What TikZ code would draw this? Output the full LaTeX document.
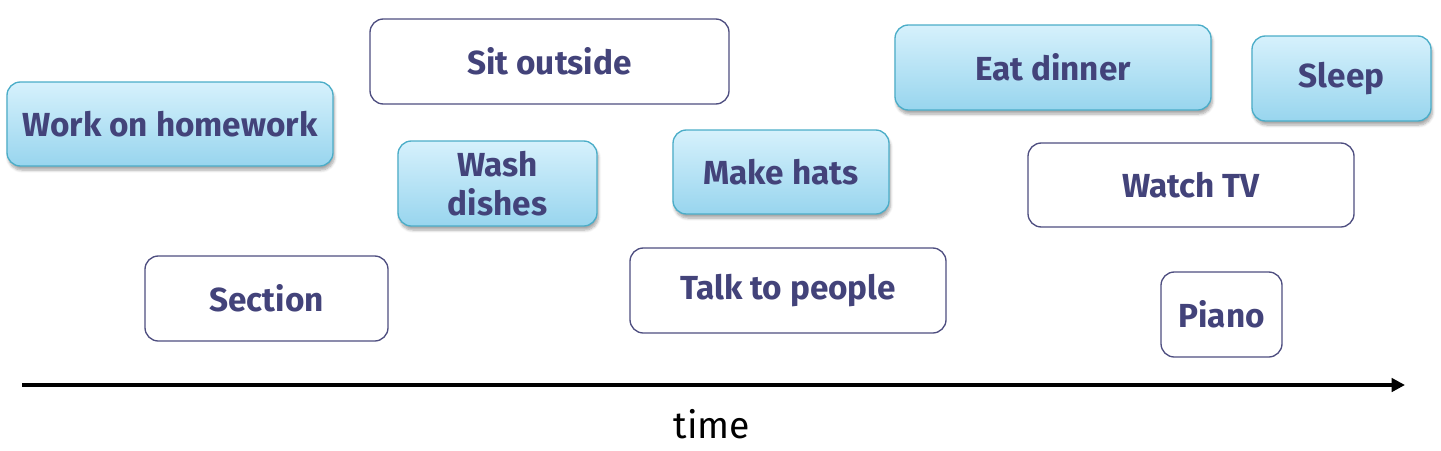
\documentclass[tikz,border=0pt]{standalone}
\usepackage{fontspec}
\setmainfont{Fira Sans}
\usetikzlibrary{shadows.blur,arrows.meta}
\definecolor{txt}{HTML}{43437A}
\definecolor{edgeW}{HTML}{4E4E80}
\definecolor{edgeB}{HTML}{4BADC8}
\definecolor{topB}{HTML}{D6F1FC}
\definecolor{botB}{HTML}{98D5EE}
\tikzset{
  x=0.75pt, y=-0.75pt,
  basebox/.style 2 args={rounded corners=10pt, minimum width=#1*0.75pt, minimum height=#2*0.75pt,
    inner sep=0pt, font=\fontsize{25}{29}\selectfont\bfseries, text=txt, align=center, line width=1pt},
  whitebox/.style 2 args={basebox={#1}{#2}, draw=edgeW, fill=white},
  bluebox/.style 2 args={basebox={#1}{#2}, draw=edgeB, top color=topB, bottom color=botB,
    blur shadow={shadow xshift=1pt, shadow yshift=-3pt, shadow blur steps=6, shadow opacity=35}},
}
\begin{document}
\begin{tikzpicture}
\useasboundingbox (0,0) rectangle (1441,450);
\node[bluebox={326}{84}] (hw) at (170,124) {Work on homework};
\node[whitebox={359}{85}] (sit) at (549.5,61.5) {Sit outside};
\node[bluebox={199}{85}] (wash) at (497.5,183.5) {Wash\\dishes};
\node[bluebox={216}{84}] (hats) at (781,172) {Make hats};
\node[bluebox={316}{85}] (eat) at (1053,67.5) {Eat dinner};
\node[bluebox={179}{85}] (sleep) at (1341.5,78.5) {Sleep};
\node[whitebox={326}{84}] (tv) at (1191,185) {Watch TV};
\node[whitebox={243}{85}] (sec) at (266.5,298.5) {Section};
\node[whitebox={316}{85}] (talk) at (788,290.5) {Talk to people};
\node[whitebox={121}{85}] (piano) at (1221.5,314.5) {Piano};
\coordinate (t0) at (22,385);
\coordinate (t1) at (1405,385);
\draw[line width=2.6pt, -{Triangle[length=10pt,width=10pt]}] (t0) -- (t1);
\node[font=\fontsize{28}{32}\selectfont, text=black] (time) at (712,424) {time};
\end{tikzpicture}
\end{document}
